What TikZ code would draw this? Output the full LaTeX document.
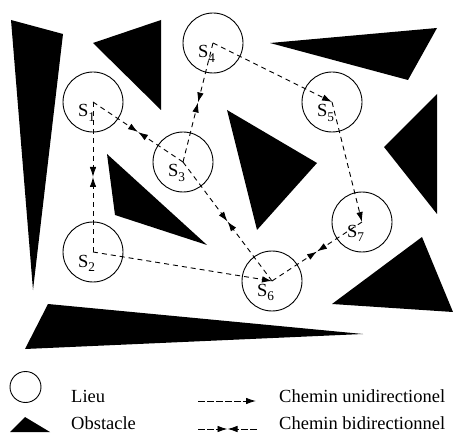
\documentclass[tikz,border=0pt]{standalone}
\usepackage{fontspec}
\setmainfont{Liberation Serif}
\usetikzlibrary{arrows.meta,calc}
\newcommand\subsc[1]{\raisebox{-5pt}{\fontsize{13.3}{14}\selectfont #1}}
\tikzset{
  place/.style={draw, circle, minimum size=60pt, inner sep=0pt, line width=0.9pt},
  lab/.style={anchor=base west, inner sep=0pt, font=\fontsize{18.5}{20}\selectfont},
  legtext/.style={anchor=base west, inner sep=0pt, font=\fontsize{18.5}{20}\selectfont},
  conn/.style={line width=0.9pt, dash pattern=on 5pt off 4pt},
  legconn/.style={line width=0.9pt, dash pattern=on 7pt off 2pt},
  tip/.style={-{Latex[length=10pt,width=6.5pt]}},
  obst/.style={fill=black, draw=none}
}
\begin{document}
\begin{tikzpicture}[x=1pt, y=-1pt]
\useasboundingbox (0,0) rectangle (453,433);
% obstacles
\fill[obst] (11,20) -- (63,34) -- (33,290) -- cycle;
\fill[obst] (93,43) -- (161,20) -- (161,110) -- cycle;
\fill[obst] (107,154) -- (115,215) -- (207,245) -- cycle;
\fill[obst] (227,110) -- (317,163) -- (257,230) -- cycle;
\fill[obst] (270,43) -- (437,28) -- (408,80) -- cycle;
\fill[obst] (437,94) -- (384,147) -- (437,214) -- cycle;
\fill[obst] (422,237) -- (332,304) -- (453,312) -- cycle;
\fill[obst] (48,304) -- (363,334) -- (25,349) -- cycle;
% places
\node[place] (s1) at (93,102) {};
\node[place] (s2) at (93,252) {};
\node[place] (s3) at (183,162) {};
\node[place] (s4) at (213,43) {};
\node[place] (s5) at (332,102) {};
\node[place] (s6) at (272,281) {};
\node[place] (s7) at (362,222) {};
\node[lab] (l1) at ($(s1.center)+(-15,15)$) {S\subsc{1}};
\node[lab] (l2) at ($(s2.center)+(-15,15)$) {S\subsc{2}};
\node[lab] (l3) at ($(s3.center)+(-15,15)$) {S\subsc{3}};
\node[lab] (l4) at ($(s4.center)+(-15,15)$) {S\subsc{4}};
\node[lab] (l5) at ($(s5.center)+(-15,15)$) {S\subsc{5}};
\node[lab] (l6) at ($(s6.center)+(-15,15)$) {S\subsc{6}};
\node[lab] (l7) at ($(s7.center)+(-15,15)$) {S\subsc{7}};
% unidirectional paths
\draw[conn, tip] (s4.center) -- (s5.center);
\draw[conn, tip] (s5.center) -- (s7.center);
\draw[conn, tip] (s2.center) -- (s6.center);
% bidirectional paths
\foreach \a/\b in {s1/s2, s1/s3, s3/s4, s7/s6, s3/s6} {
  \draw[conn, tip] (\a.center) -- ($(\a.center)!0.5!(\b.center)$);
  \draw[conn, tip] (\b.center) -- ($(\a.center)!0.5!(\b.center)$);
}
% legend
\node[place, minimum size=31pt] (legc) at (25.5,387) {};
\fill[obst] (10,432) -- (25,417) -- (50,432) -- cycle;
\node[legtext] (t1) at (71,402) {Lieu};
\node[legtext] (t2) at (71,429) {Obstacle};
\node[legtext] (t3) at (279,402) {Chemin unidirectionel};
\node[legtext] (t4) at (279,429) {Chemin bidirectionnel};
\coordinate (ua) at (198,401);
\coordinate (ub) at (256,401);
\coordinate (ba) at (198,429);
\coordinate (bm) at (227.5,429);
\coordinate (bb) at (257,429);
\draw[legconn, tip] (ua) -- (ub);
\draw[legconn, tip] (ba) -- (bm);
\draw[legconn, tip] (bb) -- (bm);
\end{tikzpicture}
\end{document}
